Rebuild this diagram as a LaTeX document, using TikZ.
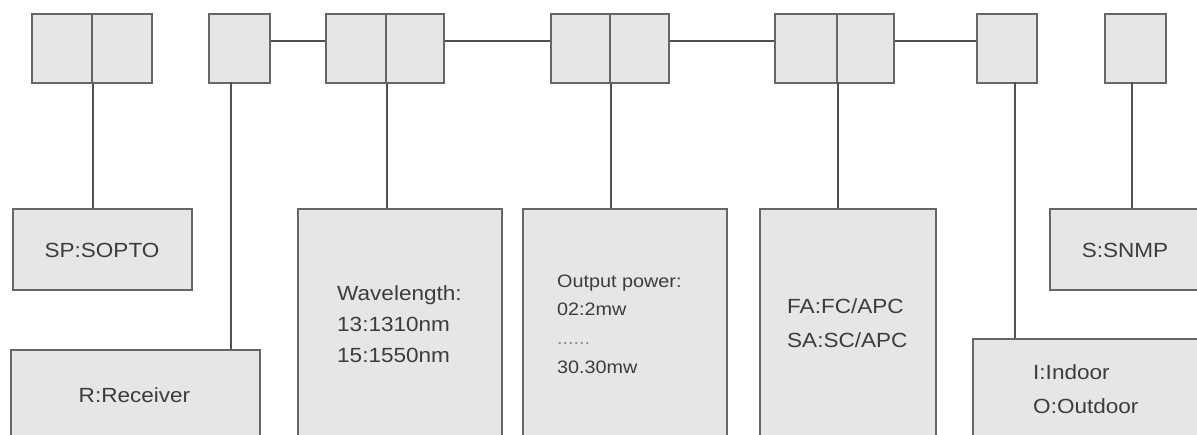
\documentclass[tikz,border=0pt]{standalone}
\usepackage{fontspec}
\setmainfont[FakeStretch=1.1]{Liberation Sans}
\definecolor{boxfill}{HTML}{E6E6E6}
\definecolor{boxline}{HTML}{666666}
\definecolor{conn}{HTML}{505050}
\definecolor{txt}{HTML}{3C3C3C}
\tikzset{
  cell/.style={draw=boxline, fill=boxfill, line width=1.8pt, inner sep=0pt, anchor=north west},
  link/.style={draw=conn, line width=2.5pt},
  lbl/.style={text=txt, inner sep=0pt, anchor=base west, font=\fontsize{20.5}{23}\selectfont},
  lblc/.style={text=txt, inner sep=0pt, anchor=base, font=\fontsize{20.5}{23}\selectfont},
  lbls/.style={text=txt, inner sep=0pt, anchor=base west, font=\fontsize{18}{20}\selectfont},
}
\newcommand{\cellbox}[5]{\node[cell, minimum width=#4pt, minimum height=#5pt] (#1) at (#2,#3) {};}
\begin{document}
\begin{tikzpicture}[x=1pt,y=-1pt]
\useasboundingbox (0,0) rectangle (1197,434);
\clip (0,0) rectangle (1197,434);
% top boxes
\cellbox{t1a}{31}{13}{60}{69}
\cellbox{t1b}{91}{13}{60}{69}
\cellbox{t2}{208}{13}{61}{69}
\cellbox{t3a}{325}{13}{60}{69}
\cellbox{t3b}{385}{13}{58}{69}
\cellbox{t4a}{550}{13}{59}{69}
\cellbox{t4b}{609}{13}{59}{69}
\cellbox{t5a}{774}{13}{62}{69}
\cellbox{t5b}{836}{13}{57}{69}
\cellbox{t6}{976}{13}{60}{69}
\cellbox{t7}{1104}{13}{61}{69}
% bottom boxes
\cellbox{sp}{12}{208}{179}{81}
\cellbox{rc}{10}{349}{249}{120}
\cellbox{wl}{297}{208}{204}{260}
\cellbox{op}{522}{208}{204}{260}
\cellbox{fa}{759}{208}{176}{260}
\cellbox{io}{972}{338}{250}{130}
\cellbox{sn}{1049}{208}{173}{81}
% helper coordinates
\coordinate (ly) at (0,41);
\coordinate (s2) at (231,82);
\coordinate (s5) at (838,82);
\coordinate (s6) at (1015,82);
\coordinate (s7) at (1132,82);
% horizontal links
\draw[link] (t2.east |- ly) -- (t3a.west |- ly);
\draw[link] (t3b.east |- ly) -- (t4a.west |- ly);
\draw[link] (t4b.east |- ly) -- (t5a.west |- ly);
\draw[link] (t5b.east |- ly) -- (t6.west |- ly);
% vertical stems
\draw[link] (t1a.south east) -- (t1a.south east |- sp.north);
\draw[link] (s2) -- (s2 |- rc.north);
\draw[link] (t3a.south east) -- (t3a.south east |- wl.north);
\draw[link] (t4a.south east) -- (t4a.south east |- op.north);
\draw[link] (s5) -- (s5 |- fa.north);
\draw[link] (s6) -- (s6 |- io.north);
\draw[link] (s7) -- (s7 |- sn.north);
% texts
\node[lblc] (tsp) at (102,257) {SP:SOPTO};
\node[lblc] (trc) at (134.5,402) {R:Receiver};
\node[lbl] (twl1) at (337,300) {Wavelength:};
\node[lbl] (twl2) at (337,331) {13:1310nm};
\node[lbl] (twl3) at (337,362) {15:1550nm};
\node[lbls] (top1) at (557,287) {Output power:};
\node[lbls] (top2) at (557,315) {02:2mw};
\node[lbls, text=txt!60] (top3) at (557,344) {......};
\node[lbls] (top4) at (557,373) {30.30mw};
\node[lbl] (tfa1) at (787,313) {FA:FC/APC};
\node[lbl] (tfa2) at (787,347) {SA:SC/APC};
\node[lbl] (tio1) at (1033,379) {I:Indoor};
\node[lbl] (tio2) at (1033,413) {O:Outdoor};
\node[lblc] (tsn) at (1125,257) {S:SNMP};
\end{tikzpicture}
\end{document}
